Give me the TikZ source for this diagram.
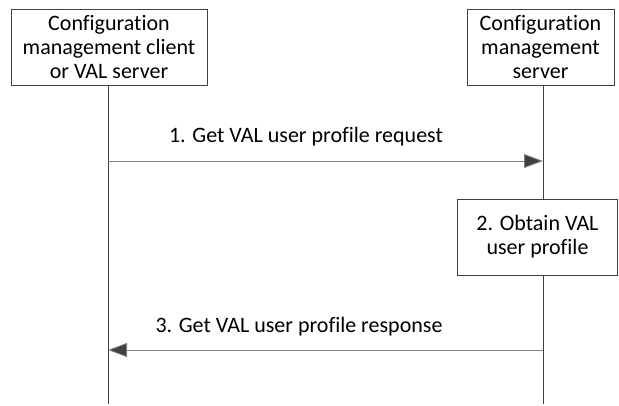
\documentclass[tikz,border=0pt]{standalone}
\usepackage{fontspec}
\setmainfont{Carlito}[Ligatures=NoCommon]
\usetikzlibrary{positioning,arrows.meta}
\definecolor{linegray}{RGB}{64,64,64}

\tikzset{
  entity/.style={draw=linegray, line width=0.9pt, fill=white, align=center,
    minimum width=196pt, minimum height=76pt, inner sep=2pt},
  lifeline/.style={draw=linegray, line width=0.9pt},
  msg/.style={draw=gray, line width=0.9pt, -{Triangle[length=19pt, width=14pt, fill=linegray]}},
}

\begin{document}
\begin{tikzpicture}[x=1pt, y=-1pt, font=\fontsize{22}{24}\selectfont]
\useasboundingbox (0,0) rectangle (619,405);

\node[entity] (client) at (109, 47) {Configuration\\management client\\or VAL server};
\node[entity, minimum width=147pt] (server) at (540.5, 47.5) {Configuration\\management\\server};

\coordinate (cbot) at (108, 404);
\coordinate (sbot) at (543, 404);

\node[entity, minimum width=160pt] (obtain) at (537.5, 237) {2. Obtain VAL\\user profile};

\draw[lifeline] (client.south -| cbot) -- (cbot);
\draw[lifeline] (server.south -| sbot) -- (obtain.north -| sbot);
\draw[lifeline] (obtain.south -| sbot) -- (sbot);

\coordinate (req1) at (108, 161);
\coordinate (req2) at (543, 161);
\draw[msg] (req1) -- (req2);
\node (reqlabel) at (306, 137) {1. Get VAL user profile request};

\coordinate (res1) at (543, 350);
\coordinate (res2) at (108, 350);
\draw[msg] (res1) -- (res2);
\node (reslabel) at (299, 327) {3. Get VAL user profile response};

\end{tikzpicture}
\end{document}
